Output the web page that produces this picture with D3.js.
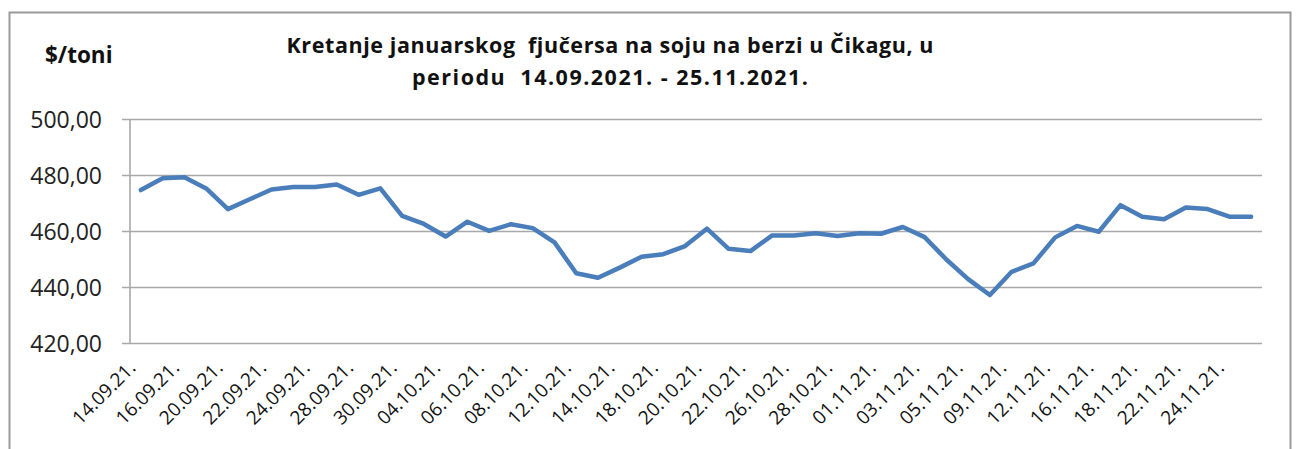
<!DOCTYPE html>
<html><head><meta charset="utf-8">
<script src="https://cdn.jsdelivr.net/npm/d3@7"></script>
<style>body{margin:0;background:#fff;}svg{display:block;}</style>
</head><body>
<script>
const dates = ["14.09.21.","15.09.21.","16.09.21.","17.09.21.","20.09.21.","21.09.21.","22.09.21.","23.09.21.","24.09.21.","27.09.21.","28.09.21.","29.09.21.","30.09.21.","01.10.21.","04.10.21.","05.10.21.","06.10.21.","07.10.21.","08.10.21.","11.10.21.","12.10.21.","13.10.21.","14.10.21.","15.10.21.","18.10.21.","19.10.21.","20.10.21.","21.10.21.","22.10.21.","25.10.21.","26.10.21.","27.10.21.","28.10.21.","29.10.21.","01.11.21.","02.11.21.","03.11.21.","04.11.21.","05.11.21.","08.11.21.","09.11.21.","10.11.21.","12.11.21.","15.11.21.","16.11.21.","17.11.21.","18.11.21.","19.11.21.","22.11.21.","23.11.21.","24.11.21.","25.11.21."];
const prices = [474.8,479.0,479.4,475.4,468.0,471.5,475.0,475.9,475.9,476.8,473.1,475.4,465.6,462.7,458.2,463.5,460.2,462.6,461.2,456.1,445.1,443.5,447.1,451.0,451.9,454.8,461.0,453.8,453.0,458.6,458.6,459.4,458.4,459.4,459.2,461.6,458.0,450.0,443.0,437.3,445.6,448.6,457.9,462.0,459.9,469.4,465.3,464.4,468.6,468.0,465.3,465.3];
const yTicks = [420,440,460,480,500];
const titleLines = ["Kretanje januarskog  fjučersa na soju na berzi u Čikagu, u","periodu  14.09.2021. - 25.11.2021."];
const titleWidths = [647, 396];
const unitLabel = "$/toni";

const W = 1302, H = 449;
const svg = d3.select("body").append("svg").attr("width", W).attr("height", H);
const font = "'Open Sans', sans-serif";

// outer frame
svg.append("path").attr("d", `M9.5,449 V12.5 H1290.5 V449`).attr("fill","none").attr("stroke","#9a9a9a").attr("stroke-width",2);

const x = d3.scaleBand().domain(dates).range([130, 1262]);
const y = d3.scaleLinear().domain([420, 500]).range([343.5, 119.5]);

// gridlines
svg.append("g").selectAll("line").data(yTicks).join("line")
  .attr("x1", 122).attr("x2", 1262)
  .attr("y1", d => y(d)).attr("y2", d => y(d))
  .attr("stroke", "#a8a8a8").attr("stroke-width", 1.6);

// y axis line
svg.append("line").attr("x1",130).attr("x2",130).attr("y1",y(500)).attr("y2",y(420))
  .attr("stroke","#a8a8a8").attr("stroke-width",1.6);

// y labels
const fmt = v => d3.format(".2f")(v).replace(".", ",");
svg.append("g").selectAll("text").data(yTicks).join("text")
  .attr("x", 102).attr("y", d => y(d)).attr("dy", "0.36em")
  .attr("text-anchor","end").attr("font-family",font).attr("font-size",23).attr("fill","#222")
  .text(fmt);

// x labels (every other)
svg.append("g").selectAll("text").data(dates.filter((d,i)=> i%2===0)).join("text")
  .attr("text-anchor","end").attr("font-family",font).attr("font-size",19).attr("fill","#111")
  .attr("transform", d => `translate(${x(d)+x.bandwidth()/2-4},${369}) rotate(-45)`)
  .text(d => d);

// line
const line = d3.line().x((d,i)=> x(dates[i]) + x.bandwidth()/2).y(d => y(d));
svg.append("path").datum(prices).attr("d", line).attr("fill","none")
  .attr("stroke","#4a7ebb").attr("stroke-width",4.5).attr("stroke-linejoin","round").attr("stroke-linecap","round");

// title
svg.append("g").selectAll("text").data(titleLines).join("text")
  .attr("x", 610).attr("y", (d,i)=> 53 + i*32).attr("text-anchor","middle")
  .attr("font-family",font).attr("font-weight","bold").attr("font-size",21.5).attr("fill","#111")
  .attr("textLength", (d,i)=> titleWidths[i]).attr("lengthAdjust","spacing")
  .attr("xml:space","preserve").style("white-space","pre")
  .text(d => d);

svg.append("text").attr("x", 45).attr("y", 63).attr("font-family",font).attr("font-weight","bold")
  .attr("font-size",22.5).attr("fill","#111").text(unitLabel);
</script>
</body></html>
